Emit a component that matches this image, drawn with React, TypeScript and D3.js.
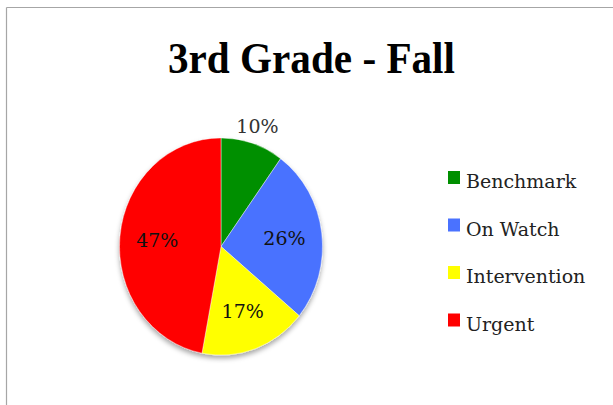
import React from "react";
import * as d3 from "d3";

const categories = ["Benchmark", "On Watch", "Intervention", "Urgent"];
const values = [10, 26, 17, 47];
const colors = ["#008f00", "#4a72ff", "#ffff00", "#ff0000"];
const title = "3rd Grade - Fall";

export default function App() {
  const W = 613, H = 405;
  const cx = 221, cy = 246.5, r = 101.5, sy = 1.07;
  const pie = d3.pie<number>().sort(null).value((d) => d)(values);
  const arc = d3.arc<d3.PieArcDatum<number>>().innerRadius(0).outerRadius(r);
  const total = d3.sum(values);
  const labelPos = (p: d3.PieArcDatum<number>) => {
    const frac = (p.endAngle - p.startAngle) / (2 * Math.PI);
    const rr = frac < 0.15 ? 118 : 64;
    const a = (p.startAngle + p.endAngle) / 2;
    return [cx + rr * Math.sin(a), cy - rr * Math.cos(a) * sy];
  };
  const legendY = d3.scaleLinear().domain([0, 1]).range([188, 235.5]);
  return (
    <div style={{ position: "absolute", left: 0, top: 0 }}>
      <svg width={W} height={H} style={{ display: "block", background: "#fff" }}>
        <defs>
          <filter id="sh" x="-20%" y="-20%" width="140%" height="150%">
            <feDropShadow dx="0" dy="3" stdDeviation="2.5" floodColor="#000" floodOpacity="0.35" />
          </filter>
        </defs>
        <line x1={6.5} y1={7.5} x2={W} y2={7.5} stroke="#a6a6a6" strokeWidth={1.2} />
        <line x1={6.5} y1={7.5} x2={6.5} y2={H} stroke="#a6a6a6" strokeWidth={1.2} />
        <text
          x={311.5}
          y={73}
          textAnchor="middle"
          fontFamily="Liberation Serif"
          fontWeight="bold"
          fontSize={44}
          textLength={287}
          lengthAdjust="spacingAndGlyphs"
          fill="#000"
        >
          {title}
        </text>
        <g transform={`translate(${cx},${cy}) scale(1,${sy})`} filter="url(#sh)">
          {pie.map((p, i) => (
            <path key={i} d={arc(p) || ""} fill={colors[i]} stroke="#fff" strokeWidth={0.4} />
          ))}
        </g>
        {pie.map((p, i) => {
          const [x, y] = labelPos(p);
          return (
            <text
              key={i}
              x={x}
              y={y + 7}
              textAnchor="middle"
              fontFamily="DejaVu Serif"
              fontSize={19}
              fill={i === 0 ? "#333" : "#111"}
            >
              {Math.round((values[i] / total) * 100)}%
            </text>
          );
        })}
        {categories.map((c, i) => (
          <g key={c}>
            <rect x={448} y={legendY(i) - 17} width={12} height={13} fill={colors[i]} />
            <text x={466} y={legendY(i)} fontFamily="DejaVu Serif" fontSize={19} fill="#222">
              {c}
            </text>
          </g>
        ))}
      </svg>
    </div>
  );
}
